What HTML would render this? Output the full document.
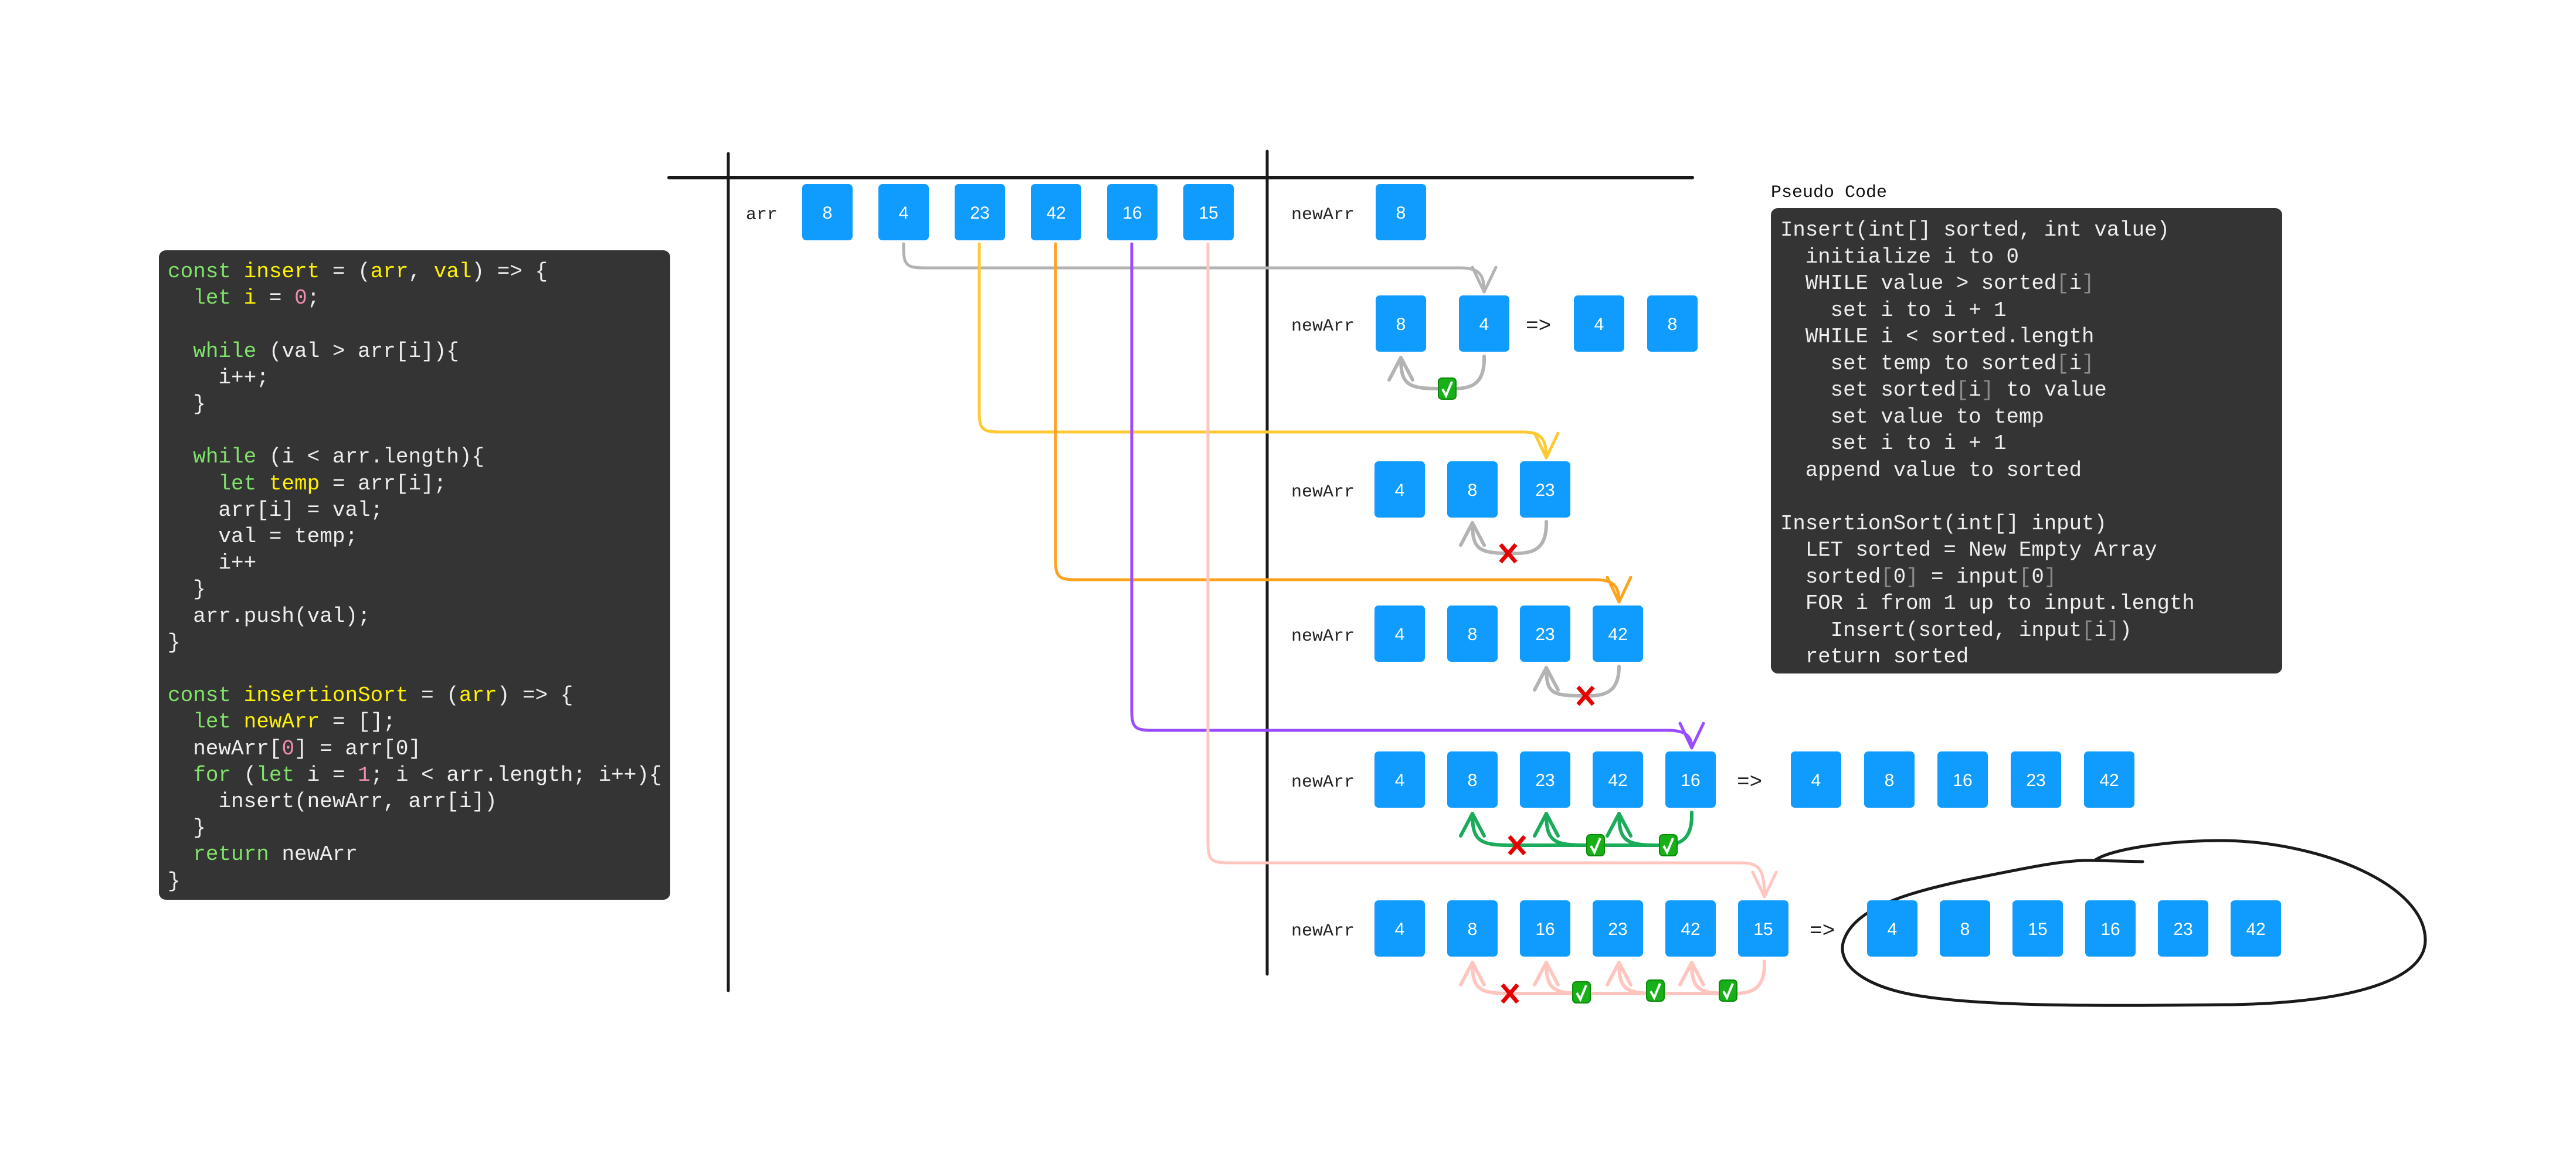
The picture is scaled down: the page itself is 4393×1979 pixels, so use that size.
<!DOCTYPE html>
<html><head><meta charset="utf-8">
<style>
html,body{margin:0;padding:0;background:#fff;}
body{width:4393px;height:1979px;position:relative;overflow:hidden;}
.panel{position:absolute;background:#343434;border-radius:12px;}
.code{position:absolute;font-family:"Liberation Mono",monospace;white-space:pre;color:#eeeeee;}
.k{color:#80e36a}.y{color:#fff200}.n{color:#f08caf}.g{color:#8a8a8a}
svg{position:absolute;left:0;top:0;}
</style></head><body>
<div class="panel" style="left:271px;top:427px;width:872px;height:1108px;"></div>
<div class="code" style="left:286px;top:441px;font-size:36px;line-height:45.2px;"><span class="k">const</span> <span class="y">insert</span> = (<span class="y">arr</span>, <span class="y">val</span>) => {
  <span class="k">let</span> <span class="y">i</span> = <span class="n">0</span>;

  <span class="k">while</span> (val > arr[i]){
    i++;
  }

  <span class="k">while</span> (i < arr.length){
    <span class="k">let</span> <span class="y">temp</span> = arr[i];
    arr[i] = val;
    val = temp;
    i++
  }
  arr.push(val);
}

<span class="k">const</span> <span class="y">insertionSort</span> = (<span class="y">arr</span>) => {
  <span class="k">let</span> <span class="y">newArr</span> = [];
  newArr[<span class="n">0</span>] = arr[0]
  <span class="k">for</span> (<span class="k">let</span> i = <span class="n">1</span>; i < arr.length; i++){
    insert(newArr, arr[i])
  }
  <span class="k">return</span> newArr
}</div>

<div class="code" style="left:3020px;top:312px;font-size:30px;color:#111;">Pseudo Code</div>
<div class="panel" style="left:3020px;top:355px;width:872px;height:794px;"></div>
<div class="code" style="left:3036px;top:370px;font-size:35.7px;line-height:45.5px;">Insert(int[] sorted, int value)
  initialize i to 0
  WHILE value > sorted<span class="g">[</span>i<span class="g">]</span>
    set i to i + 1
  WHILE i < sorted.length
    set temp to sorted<span class="g">[</span>i<span class="g">]</span>
    set sorted<span class="g">[</span>i<span class="g">]</span> to value
    set value to temp
    set i to i + 1
  append value to sorted

InsertionSort(int[] input)
  LET sorted = New Empty Array
  sorted<span class="g">[</span>0<span class="g">]</span> = input<span class="g">[</span>0<span class="g">]</span>
  FOR i from 1 up to input.length
    Insert(sorted, input<span class="g">[</span>i<span class="g">]</span>)
  return sorted</div>

<svg width="4393" height="1979" viewBox="0 0 4393 1979" id="s">
<g stroke="#1a1a1a" stroke-linecap="round" fill="none">
<line x1="1141" y1="303" x2="2886" y2="303" stroke-width="6"/>
<line x1="1242" y1="262" x2="1242" y2="1690" stroke-width="5"/>
<line x1="2161" y1="258" x2="2161" y2="1662" stroke-width="5"/>
<path d="M3654 1470 L3572 1468 C3600 1448 3700 1434 3790 1434 C3960 1436 4136 1510 4136 1604 C4136 1680 3980 1712 3800 1714 C3600 1716 3400 1718 3280 1700 C3170 1684 3128 1640 3146 1600 C3168 1546 3260 1522 3350 1502 C3450 1482 3520 1466 3572 1468" stroke-width="5"/>
</g>
<g id="g"></g>
</svg>
<script>
var NS="http://www.w3.org/2000/svg",G=document.getElementById('g');
function el(t,a,txt){var e=document.createElementNS(NS,t);for(var k in a)e.setAttribute(k,a[k]);if(txt!=null)e.textContent=txt;G.appendChild(e);return e;}
function box(x,y,v){el('rect',{x:x,y:y,width:86,height:96,rx:7,fill:'#109bff'});el('text',{x:x+43,y:y+59,'text-anchor':'middle','font-family':'Liberation Sans, sans-serif','font-size':30,fill:'#fff'},v);}
function lab(x,y,t,fs){el('text',{x:x,y:y,'font-family':'Liberation Mono, monospace','font-size':fs||30,fill:'#222'},t);}
lab(1272,374,'arr');
[8,4,23,42,16,15].forEach(function(v,i){box(1368+130*i,314,v);});
lab(2202,374,'newArr');box(2346,314,8);
lab(2202,564,'newArr');box(2346,504,8);box(2488,504,4);lab(2602,566,'=>',36);box(2684,504,4);box(2809,504,8);
function row(y,vals){lab(2202,y+60,'newArr');vals.forEach(function(v,i){box(2344+124*i,y,v);});}
row(787,[4,8,23]);row(1033,[4,8,23,42]);row(1282,[4,8,23,42,16]);row(1536,[4,8,16,23,42,15]);
lab(2962,1344,'=>',36);[4,8,16,23,42].forEach(function(v,i){box(3054+125*i,1282,v);});
lab(3086,1598,'=>',36);[4,8,15,16,23,42].forEach(function(v,i){box(3184+124*i,1536,v);});
function conn(sx,hy,tx,top,c){
 el('path',{d:'M'+sx+' 416 L'+sx+' '+(hy-35)+' C'+sx+' '+(hy-5)+' '+(sx+5)+' '+hy+' '+(sx+35)+' '+hy+' L'+(tx-40)+' '+hy+' C'+(tx-8)+' '+hy+' '+tx+' '+(hy+12)+' '+tx+' '+(top-6),stroke:c,'stroke-width':5,fill:'none','stroke-linecap':'round'});
 el('path',{d:'M'+(tx-20)+' '+(top-48)+' L'+tx+' '+(top-6)+' L'+(tx+20)+' '+(top-48),stroke:c,'stroke-width':5,fill:'none','stroke-linecap':'round','stroke-linejoin':'round'});
}
conn(1541,457,2531,504,'#b3b3b3');
conn(1670,737,2637,787,'#ffc933');
conn(1800,989,2761,1033,'#ffa31f');
conn(1930,1246,2885,1282,'#9a4dff');
conn(2060,1472,3009,1536,'#ffc6bf');
function loop(sx,b,yl,ts,c){
 var minx=ts[0];
 el('path',{d:'M'+sx+' '+(b+8)+' L'+sx+' '+(yl-50)+' C'+sx+' '+(yl-10)+' '+(sx-20)+' '+yl+' '+(sx-50)+' '+yl+' L'+(minx+60)+' '+yl,stroke:c,'stroke-width':6,fill:'none','stroke-linecap':'round'});
 ts.forEach(function(tx){
  el('path',{d:'M'+(tx+65)+' '+yl+' C'+(tx+10)+' '+yl+' '+tx+' '+(b+55)+' '+tx+' '+(b+10),stroke:c,'stroke-width':6,fill:'none','stroke-linecap':'round'});
  el('path',{d:'M'+(tx-20)+' '+(b+48)+' L'+tx+' '+(b+10)+' L'+(tx+20)+' '+(b+48),stroke:c,'stroke-width':6,fill:'none','stroke-linecap':'round','stroke-linejoin':'round'});
 });
}
function chk(x,y){el('rect',{x:x-15,y:y-18,width:30,height:36,rx:6,fill:'#17b017',stroke:'#0a8a0a','stroke-width':2});el('path',{d:'M'+(x-8)+' '+(y+1)+' L'+(x-2)+' '+(y+12)+' L'+(x+8)+' '+(y-12),stroke:'#fff','stroke-width':4,fill:'none'});}
function xx(x,y){el('path',{d:'M'+(x-13)+' '+(y-15)+' L'+(x+13)+' '+(y+15)+' M'+(x+13)+' '+(y-15)+' L'+(x-13)+' '+(y+15),stroke:'#e60000','stroke-width':7,fill:'none'});}
loop(2531,600,663,[2389],'#b3b3b3');chk(2468,663);
loop(2637,882,944,[2511],'#b3b3b3');xx(2572,944);
loop(2761,1129,1187,[2637],'#b3b3b3');xx(2704,1187);
loop(2885,1378,1442,[2511,2637,2761],'#1aab5b');xx(2587,1442);chk(2721,1442);chk(2845,1442);
loop(3009,1632,1695,[2511,2637,2761,2885],'#ffc6bf');xx(2575,1695);chk(2697,1693);chk(2823,1690);chk(2947,1690);
</script>
</body></html>
